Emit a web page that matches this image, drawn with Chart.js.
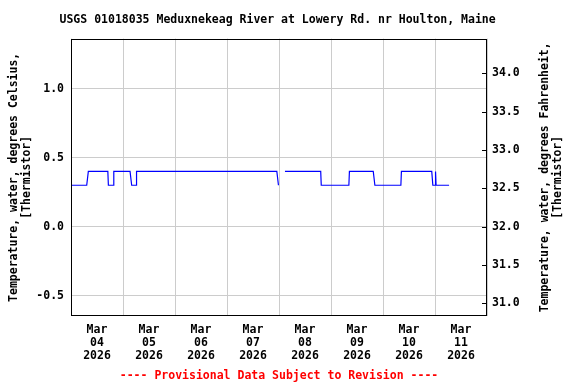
<!DOCTYPE html>
<html>
<head>
<meta charset="utf-8">
<script src="https://cdn.jsdelivr.net/npm/chart.js@4.4.1/dist/chart.umd.min.js"></script>
<style>
  html, body { margin: 0; padding: 0; background: #fff; }
  #wrap { width: 576px; height: 384px; }
</style>
</head>
<body>
<div id="wrap"><canvas id="tempChart" width="576" height="384"></canvas></div>
<script>
// hours after 2026-03-04 00:00 and the water temperature (deg C) read at each step
const hours = [0, 7.25, 8, 17, 17.25, 19.5, 19.75, 27.25, 28, 30, 30.25, 95, 95.75, 97, 98.75,
  115.25, 115.5, 128.25, 128.5, 139.5, 140.25, 152.25, 152.5, 166.5, 167, 168, 168.25, 168.5, 174.5];
const tempC = [0.3, 0.3, 0.4, 0.4, 0.3, 0.3, 0.4, 0.4, 0.3, 0.3, 0.4, 0.4, 0.3, null, 0.4,
  0.4, 0.3, 0.3, 0.4, 0.4, 0.3, 0.3, 0.4, 0.4, 0.3, 0.3, 0.4, 0.3, 0.3];

const dayLabels = ['04', '05', '06', '07', '08', '09', '10', '11'];
const celsiusTicks = [-0.5, 0.0, 0.5, 1.0];
const fahrenheitTicks = [31.0, 31.5, 32.0, 32.5, 33.0, 33.5, 34.0];

const cMin = -0.647, cMax = 1.362;
const toF = c => c * 1.8 + 32;

const mono = 'DejaVu Sans Mono';
const tickFont = { family: mono, weight: 'bold', size: 11.5, lineHeight: 1.13 };

const points = hours.map((h, i) => ({ x: h, y: tempC[i] }));

// plot frame, right axis inner ticks and the right axis title
const framePlugin = {
  id: 'frame',
  afterDraw(chart) {
    const { ctx, chartArea: a } = chart;
    ctx.save();
    ctx.strokeStyle = '#000';
    ctx.lineWidth = 1;
    ctx.strokeRect(Math.round(a.left) + 0.5, Math.round(a.top) + 0.5,
      Math.round(a.right - a.left) - 1, Math.round(a.bottom - a.top) - 1);
    const y2 = chart.scales.y2;
    ctx.beginPath();
    fahrenheitTicks.forEach(f => {
      const py = Math.round(y2.getPixelForValue(f)) + 0.5;
      ctx.moveTo(a.right - 5, py);
      ctx.lineTo(a.right, py);
    });
    ctx.stroke();

    ctx.fillStyle = '#000';
    ctx.font = 'bold 11.5px "DejaVu Sans Mono"';
    ctx.textAlign = 'center';
    ctx.textBaseline = 'middle';
    const cy = (a.top + a.bottom) / 2;
    ctx.translate(545, cy);
    ctx.rotate(-Math.PI / 2);
    ctx.fillText('Temperature, water, degrees Fahrenheit,', 0, 0);
    ctx.fillText('[Thermistor]', 0, 13);
    ctx.restore();
  }
};

const ctx = document.getElementById('tempChart').getContext('2d');
const tempChart = new Chart(ctx, {
  type: 'line',
  data: {
    datasets: [{
      data: points,
      borderColor: '#0000ff',
      borderWidth: 1.2,
      pointRadius: 0,
      tension: 0,
      fill: false,
      spanGaps: false
    }]
  },
  options: {
    responsive: false,
    animation: false,
    layout: { padding: 0 },
    plugins: {
      legend: { display: false },
      tooltip: { enabled: false },
      title: {
        display: true,
        // trailing spaces nudge the centred title a little left, as in the original
        text: 'USGS 01018035 Meduxnekeag River at Lowery Rd. nr Houlton, Maine   ',
        color: '#000',
        font: { family: mono, weight: 'bold', size: 11.5, lineHeight: 1.1 },
        padding: { top: 14, bottom: 12 }
      },
      subtitle: {
        display: true,
        fullSize: false,
        position: 'bottom',
        text: '---- Provisional Data Subject to Revision ----',
        color: '#ff0000',
        font: { family: mono, weight: 'bold', size: 11.5, lineHeight: 1.13 },
        padding: { top: 3, bottom: 1.5 }
      }
    },
    scales: {
      x: {
        type: 'linear',
        min: 0,
        max: 192,
        afterBuildTicks: s => { s.ticks = Array.from({ length: 17 }, (_, i) => ({ value: i * 12 })); },
        afterFit: s => { s.height = 50.5; },
        border: { display: false },
        grid: {
          drawTicks: false,
          color: c => (c.tick && c.tick.value % 24 === 0) ? '#cccccc' : 'rgba(0,0,0,0)'
        },
        ticks: {
          autoSkip: false,
          maxRotation: 0,
          minRotation: 0,
          padding: 8,
          color: '#000',
          font: tickFont,
          callback: v => v % 24 === 12 ? ['Mar', dayLabels[(v - 12) / 24], '2026'] : ''
        }
      },
      y: {
        position: 'left',
        min: cMin,
        max: cMax,
        afterBuildTicks: s => { s.ticks = celsiusTicks.map(v => ({ value: v })); },
        afterFit: s => { s.width = 71; },
        border: { display: false },
        grid: { drawTicks: false, color: '#cccccc' },
        ticks: {
          padding: 7,
          color: '#000',
          font: tickFont,
          callback: v => v.toFixed(1)
        },
        title: {
          display: true,
          text: ['Temperature, water, degrees Celsius,', '[Thermistor]'],
          color: '#000',
          font: { family: mono, weight: 'bold', size: 11.5, lineHeight: 1.13 },
          padding: { top: 8, bottom: 0 }
        }
      },
      y2: {
        position: 'right',
        min: toF(cMin),
        max: toF(cMax),
        afterBuildTicks: s => { s.ticks = fahrenheitTicks.map(v => ({ value: v })); },
        afterFit: s => { s.width = 89; },
        border: { display: false },
        grid: { drawTicks: false, drawOnChartArea: false },
        ticks: {
          padding: 5,
          color: '#000',
          font: tickFont,
          callback: v => v.toFixed(1)
        }
      }
    }
  },
  plugins: [framePlugin]
});
</script>
</body>
</html>
